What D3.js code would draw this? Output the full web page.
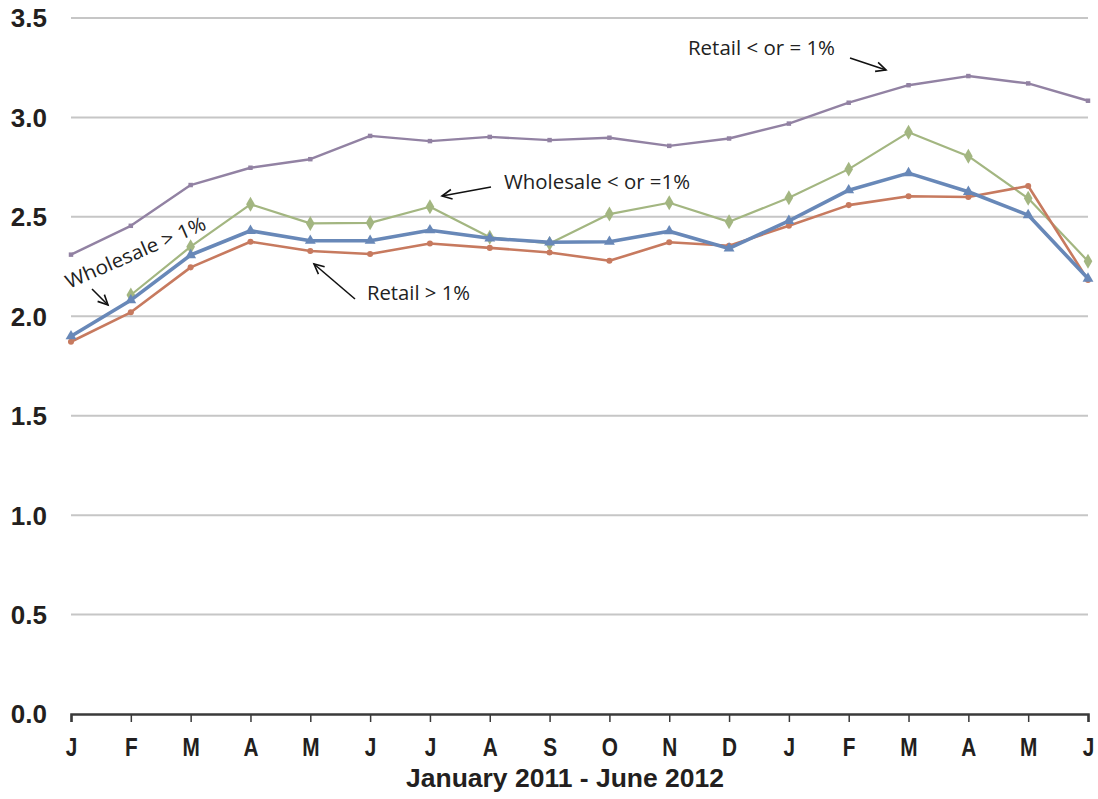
<!DOCTYPE html>
<html><head><meta charset="utf-8">
<script src="https://cdn.jsdelivr.net/npm/d3@7"></script>
<style>body{margin:0;background:#fff}</style></head>
<body><svg id="c" width="1098" height="799"></svg>
<script>
const months = ["J","F","M","A","M","J","J","A","S","O","N","D","J","F","M","A","M","J"];
const yTicks = [0,0.5,1.0,1.5,2.0,2.5,3.0,3.5];
const retailLow = [2.31,2.455,2.66,2.747,2.79,2.907,2.881,2.902,2.886,2.898,2.857,2.894,2.969,3.074,3.162,3.208,3.171,3.084];
const wholesaleLow = [null,2.107,2.35,2.563,2.467,2.47,2.551,2.397,2.366,2.514,2.571,2.475,2.596,2.74,2.925,2.805,2.593,2.277];
const wholesaleHigh = [1.90,2.081,2.308,2.43,2.38,2.38,2.433,2.392,2.372,2.375,2.428,2.341,2.48,2.634,2.72,2.626,2.509,2.19];
const retailHigh = [1.872,2.02,2.246,2.375,2.328,2.313,2.366,2.344,2.321,2.279,2.372,2.355,2.455,2.559,2.604,2.60,2.655,2.182];

const svg = d3.select("#c");
const x = d3.scaleLinear().domain([0, months.length-1]).range([71, 1088]);
const y = d3.scaleLinear().domain([0, 3.5]).range([714, 18]);
const bf = "Liberation Sans, Arial, sans-serif";

// gridlines
svg.append("g").selectAll("line").data(yTicks.filter(d=>d>0)).join("line")
  .attr("x1",71).attr("x2",1088).attr("y1",d=>y(d)).attr("y2",d=>y(d))
  .attr("stroke","#c6c6c6").attr("stroke-width",2);

// y labels
svg.append("g").selectAll("text").data(yTicks).join("text")
  .attr("x",47).attr("y",d=>y(d)).attr("dy","0.36em").attr("text-anchor","end")
  .attr("font-family",bf).attr("font-weight","bold")
  .attr("font-size",26).attr("fill","#231f20").text(d=>d.toFixed(1));

// x axis
const xAxis = d3.axisBottom(x).tickValues(d3.range(months.length)).tickFormat(i=>months[i]).tickSize(8).tickPadding(8);
const gx = svg.append("g").attr("transform","translate(0,714)").call(xAxis);
gx.select(".domain").attr("stroke","#3a3a3a").attr("stroke-width",2.5);
gx.selectAll(".tick line").attr("stroke","#3a3a3a").attr("stroke-width",1.5);
gx.selectAll(".tick text").attr("font-family",bf).attr("font-weight","bold")
  .attr("font-size",26).attr("fill","#231f20").attr("dy",null).attr("y",42)
  .attr("transform","scale(0.8,1)");

svg.append("text").attr("x",565).attr("y",787).attr("text-anchor","middle")
  .attr("font-family",bf).attr("font-weight","bold")
  .attr("font-size",25).attr("fill","#231f20").attr("textLength",318).attr("lengthAdjust","spacingAndGlyphs")
  .text("January 2011 -  June 2012");

const line = d3.line().defined(d=>d!=null).x((d,i)=>x(i)).y(d=>y(d));
const series = [
  {data: retailLow, color:"#9282a3", w:2.4, m:"square", ms:5},
  {data: wholesaleLow, color:"#a3b681", w:2.2, m:"diamond", ms:9},
  {data: retailHigh, color:"#c77a5f", w:2.6, m:"circle", ms:6},
  {data: wholesaleHigh, color:"#6888b8", w:3.6, m:"triangle", ms:8}
];
const sym = {square:d3.symbolSquare, diamond:d3.symbolDiamond, circle:d3.symbolCircle, triangle:d3.symbolTriangle};
series.forEach(s=>{
  svg.append("path").datum(s.data).attr("d",line).attr("fill","none")
    .attr("stroke",s.color).attr("stroke-width",s.w).attr("stroke-linejoin","round");
  svg.append("g").selectAll("path").data(s.data.map((v,i)=>({v,i})).filter(d=>d.v!=null)).join("path")
    .attr("transform",d=>`translate(${x(d.i)},${y(d.v)})`)
    .attr("d",d3.symbol().type(sym[s.m]).size(s.ms*s.ms*0.8)).attr("fill",s.color);
});

// annotations
function arrow(x1,y1,x2,y2){
  svg.append("line").attr("x1",x1).attr("y1",y1).attr("x2",x2).attr("y2",y2)
    .attr("stroke","#111").attr("stroke-width",1.6);
  const a = Math.atan2(y2-y1,x2-x1), L=11, sp=0.45;
  const p1=[x2-L*Math.cos(a-sp), y2-L*Math.sin(a-sp)], p2=[x2-L*Math.cos(a+sp), y2-L*Math.sin(a+sp)];
  svg.append("path").attr("d",`M${p1}L${x2},${y2}L${p2}`).attr("fill","none").attr("stroke","#111").attr("stroke-width",1.6);
}
const af = "Open Sans, Lato, sans-serif";
function label(t,xx,yy,len,rot){
  const e = svg.append("text").attr("x",xx).attr("y",yy).attr("font-family",af).attr("font-size",19.5)
    .attr("fill","#222").attr("textLength",len).attr("lengthAdjust","spacingAndGlyphs").text(t);
  if(rot) e.attr("transform",`rotate(${rot},${xx},${yy})`);
}
label("Retail < or = 1%",688,55,147);
arrow(850,58,886,70);
label("Wholesale < or =1%",504,189,186);
arrow(491,187,442,196);
label("Retail > 1%",367,300,103);
arrow(355,299,314,264);
label("Wholesale > 1%",69,289,151,-23.5);
arrow(92,289,108,305);
</script></body></html>
